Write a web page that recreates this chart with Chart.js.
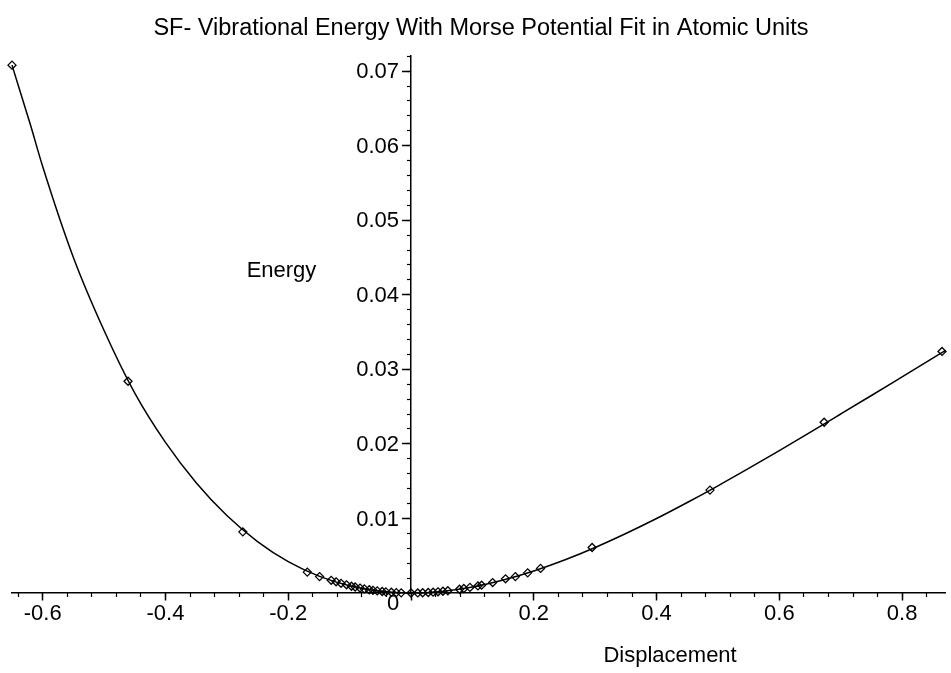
<!DOCTYPE html>
<html>
<head>
<meta charset="utf-8">
<script src="https://cdn.jsdelivr.net/npm/chart.js@4/dist/chart.umd.min.js"></script>
<style>
  html, body { margin: 0; padding: 0; background: #fff; }
  canvas { display: block; }
</style>
</head>
<body>
<canvas id="morseChart" width="951" height="673"></canvas>
<script>
var markerX = [-0.650, -0.461, -0.274, -0.169, -0.149, -0.130, -0.122, -0.114, -0.105, -0.097,
    -0.091, -0.083, -0.076, -0.068, -0.062, -0.055, -0.047, -0.041, -0.032, -0.024, -0.016, 0.000,
    0.011, 0.019, 0.028, 0.036, 0.044, 0.052, 0.060, 0.079, 0.086, 0.096, 0.109, 0.115, 0.133,
    0.154, 0.170, 0.190, 0.211, 0.295, 0.487, 0.673, 0.865];
var markerEnergy = [0.0708, 0.0284, 0.0082, 0.0028, 0.0022, 0.0017, 0.0015, 0.0013, 0.0011, 0.0009,
    0.0008, 0.00066, 0.00055, 0.00044, 0.00036, 0.00028, 0.0002, 0.00015, 0.0001, 0.00005, 0.00002, 0,
    0.00001, 0.00003, 0.00007, 0.00011, 0.00016, 0.00023, 0.0003, 0.0005, 0.0006, 0.00075, 0.00095, 0.00105, 0.0014,
    0.0019, 0.0022, 0.0027, 0.0033, 0.0061, 0.0138, 0.0229, 0.0324];

// fitted Morse curve
var fitX = [-0.65, -0.62, -0.60, -0.55, -0.50, -0.45, -0.40, -0.35, -0.30, -0.25, -0.20, -0.15, -0.10, -0.05, 0,
    0.05, 0.10, 0.15, 0.20, 0.25, 0.30, 0.35, 0.40, 0.45, 0.50, 0.55, 0.60, 0.65, 0.70, 0.75, 0.80, 0.85, 0.871];
var fitEnergy = [0.0708, 0.0628, 0.0572, 0.0450, 0.0352, 0.0268, 0.0202, 0.0148, 0.0104, 0.0069, 0.0042, 0.00226, 0.00096, 0.00023, 0,
    0.00021, 0.0008, 0.00174, 0.00296, 0.00443, 0.00611, 0.00798, 0.00999, 0.01214, 0.01438, 0.01671, 0.0191, 0.02154, 0.02401, 0.02649, 0.02899, 0.03149, 0.03255];

var xTicks = [-0.6, -0.4, -0.2, 0, 0.2, 0.4, 0.6, 0.8];
var yTicks = [0.01, 0.02, 0.03, 0.04, 0.05, 0.06, 0.07];

var X_MIN = -0.65, X_MAX = 0.871;
var Y_MIN = 0, Y_MAX = 0.072;
var FONT = '"Liberation Sans", Arial, sans-serif';

function toPoints(xs, ys) {
    return xs.map(function (x, i) { return {x: x, y: ys[i]}; });
}

function minorTicks(min, max, step) {
    var out = [];
    var start = Math.ceil(min / step - 1e-9);
    for (var k = start; k * step <= max + 1e-9; k++) {
        out.push({value: Math.round(k * step * 100000) / 100000});
    }
    return out;
}

// y labels sit left of the crossing axis; Chart.js puts them on the line when the axis is centred
var axisLabels = {
    id: 'axisLabels',
    afterDraw: function (chart) {
        var ctx = chart.ctx;
        var xs = chart.scales.x, ys = chart.scales.y;
        var zeroX = xs.getPixelForValue(0), zeroY = ys.getPixelForValue(0);
        ctx.save();
        ctx.fillStyle = '#000';
        ctx.font = '22px ' + FONT;
        ctx.textAlign = 'right';
        ctx.textBaseline = 'middle';
        yTicks.forEach(function (v) {
            ctx.fillText(v.toFixed(2), zeroX - 12, ys.getPixelForValue(v) + 1);
        });
        ctx.textAlign = 'center';
        ctx.fillText('Energy', xs.getPixelForValue(-0.211), ys.getPixelForValue(0.0432));
        ctx.fillText('Displacement', xs.getPixelForValue(0.422), zeroY + 63);
        ctx.fillText('0', zeroX - 18, zeroY + 11);
        ctx.restore();
    }
};

var ctx = document.getElementById('morseChart').getContext('2d');
new Chart(ctx, {
    type: 'scatter',
    data: {
        datasets: [{
            label: 'Morse fit',
            data: toPoints(fitX, fitEnergy),
            showLine: true,
            borderColor: '#000',
            borderWidth: 1.5,
            pointRadius: 0,
            cubicInterpolationMode: 'monotone',
            clip: false
        }, {
            label: 'Energy',
            data: toPoints(markerX, markerEnergy),
            showLine: false,
            pointStyle: 'rectRot',
            pointRadius: 4,
            borderWidth: 1.3,
            borderColor: '#000',
            backgroundColor: 'rgba(255,255,255,0)',
            clip: false
        }]
    },
    options: {
        responsive: false,
        animation: false,
        layout: { padding: { left: 12, right: 1, top: 0, bottom: 80 } },
        plugins: {
            legend: { display: false },
            tooltip: { enabled: false },
            title: {
                display: true,
                text: 'SF- Vibrational Energy With Morse Potential Fit in Atomic Units',
                color: '#000',
                font: { family: FONT, size: 23.5, weight: 'normal', lineHeight: 1.2 },
                padding: { top: 14, bottom: 14 }
            }
        },
        scales: {
            x: {
                type: 'linear', axis: 'x', bounds: 'data',
                min: X_MIN, max: X_MAX,
                position: { y: 0 },
                afterBuildTicks: function (scale) {
                    scale.ticks = xTicks.map(function (v) { return {value: v}; });
                },
                ticks: {
                    color: '#000', font: { family: FONT, size: 22 }, padding: 1,
                    autoSkip: false, maxRotation: 0,
                    callback: function (v) { return v === 0 ? '' : v.toFixed(1); }
                },
                grid: { drawOnChartArea: false, tickLength: 7, tickColor: '#000', tickWidth: 1.5 },
                border: { color: '#000', width: 1.5 }
            },
            x2: {
                type: 'linear', axis: 'x', bounds: 'data',
                min: X_MIN, max: X_MAX,
                position: { y: 0 },
                afterBuildTicks: function (scale) {
                    scale.ticks = minorTicks(X_MIN, X_MAX, 0.04);
                },
                ticks: { display: false },
                grid: { drawOnChartArea: false, tickLength: 4, tickColor: '#000', tickWidth: 1.2 },
                border: { display: false }
            },
            y: {
                type: 'linear', axis: 'y', bounds: 'data',
                min: Y_MIN, max: Y_MAX,
                position: { x: 0 },
                afterBuildTicks: function (scale) {
                    scale.ticks = yTicks.map(function (v) { return {value: v}; });
                },
                ticks: { display: false },
                grid: { drawOnChartArea: false, tickLength: 8, tickColor: '#000', tickWidth: 1.5 },
                border: { color: '#000', width: 1.5 }
            },
            y2: {
                type: 'linear', axis: 'y', bounds: 'data',
                min: Y_MIN, max: Y_MAX,
                position: { x: 0 },
                afterBuildTicks: function (scale) {
                    scale.ticks = minorTicks(Y_MIN, Y_MAX, 0.002);
                },
                ticks: { display: false },
                grid: { drawOnChartArea: false, tickLength: 4, tickColor: '#000', tickWidth: 1.2 },
                border: { display: false }
            }
        }
    },
    plugins: [axisLabels]
});
</script>
</body>
</html>
